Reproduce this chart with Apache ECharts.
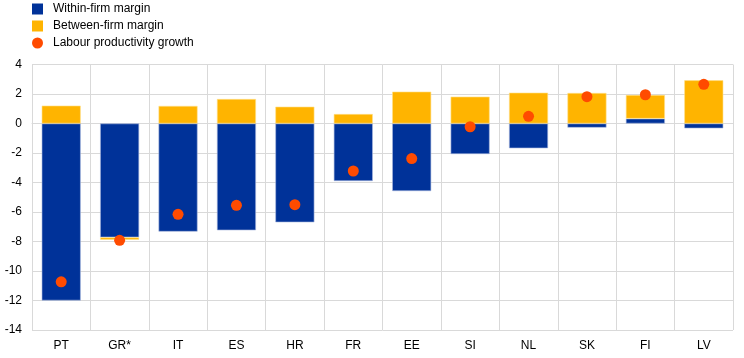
<!DOCTYPE html>
<html><head><meta charset="utf-8">
<script src="https://cdn.jsdelivr.net/npm/echarts@6/dist/echarts.min.js"></script>
<style>html,body{margin:0;padding:0;background:#fff}#c{width:744px;height:358px}</style>
</head><body><div id="c"></div>
<script>
const categories = ['PT','GR*','IT','ES','HR','FR','EE','SI','NL','SK','FI','LV'];
const withinFirm = [-12.0,-7.72,-7.33,-7.24,-6.70,-3.90,-4.58,-2.07,-1.68,-0.28,0.33,-0.33];
const betweenFirm = [1.21,-0.16,1.19,1.66,1.14,0.64,2.16,1.82,2.09,2.07,1.60,2.93];
const productivity = [-10.73,-7.92,-6.16,-5.55,-5.50,-3.22,-2.38,-0.22,0.49,1.82,1.95,2.66];
const yTicks = [-14,-12,-10,-8,-6,-4,-2,0,2,4];

const chart = echarts.init(document.getElementById('c'));
const font = 'Liberation Sans, Arial, sans-serif';
chart.setOption({
  animation: false,
  textStyle: {fontFamily: font},
  legend: {
    orient: 'vertical', left: 27, top: -2, itemWidth: 11, itemHeight: 11, itemGap: 5,
    itemStyle: {borderWidth: 0},
    textStyle: {fontSize: 12, color: '#000', fontFamily: font, padding: [0, 0, 0, 5]},
    data: [
      {name: 'Within-firm margin', icon: 'rect'},
      {name: 'Between-firm margin', icon: 'rect'},
      {name: 'Labour productivity growth', icon: 'circle'}
    ]
  },
  grid: {left: 32, right: 11, top: 64.5, bottom: 28},
  xAxis: {
    type: 'category', data: categories, boundaryGap: true,
    axisLine: {show: true, lineStyle: {color: '#d9d9d9', width: 1}},
    axisTick: {show: false},
    splitLine: {show: true, lineStyle: {color: '#d9d9d9', width: 1}},
    axisLabel: {color: '#000', fontSize: 12, margin: 10, fontFamily: font},
    position: 'bottom'
  },
  yAxis: {
    type: 'value', min: yTicks[0], max: yTicks[yTicks.length-1], interval: 2,
    axisLine: {show: true, lineStyle: {color: '#d9d9d9'}},
    axisTick: {show: false},
    splitLine: {show: true, lineStyle: {color: '#d9d9d9', width: 1}},
    axisLabel: {color: '#000', fontSize: 12, margin: 10, fontFamily: font}
  },
  series: [
    {name: 'Within-firm margin', type: 'bar', stack: 's', data: withinFirm, barWidth: 39,
     itemStyle: {color: '#003299', borderColor: '#a9b8dd', borderWidth: 0.6}},
    {name: 'Between-firm margin', type: 'bar', stack: 's', data: betweenFirm, barWidth: 39,
     itemStyle: {color: '#FFB400', borderColor: '#ffe08a', borderWidth: 0.6}},
    {name: 'Labour productivity growth', type: 'scatter', data: productivity, symbolSize: 11, z: 5,
     itemStyle: {color: '#FF4B00', opacity: 1}}
  ]
});
</script></body></html>
